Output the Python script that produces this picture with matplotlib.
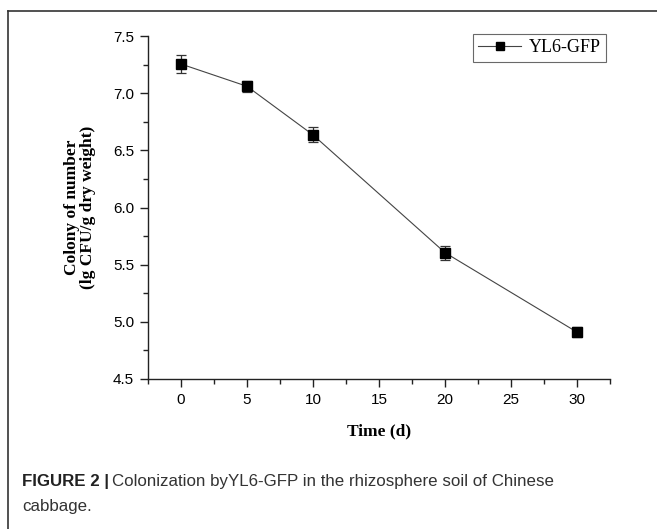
import matplotlib
matplotlib.use("Agg")
import matplotlib.pyplot as plt
from matplotlib.lines import Line2D

days = [0, 5, 10, 20, 30]
colony = [7.255, 7.06, 6.635, 5.605, 4.91]
errors = [0.08, 0.05, 0.065, 0.06, 0.045]
series_name = "YL6-GFP"
xticks = [0, 5, 10, 15, 20, 25, 30]
yticks = [4.5, 5.0, 5.5, 6.0, 6.5, 7.0, 7.5]

W, H = 657, 529
fig = plt.figure(figsize=(W / 100, H / 100), dpi=100)
ax = fig.add_axes([148 / W, 1 - 379 / H, (610 - 148) / W, (379 - 36) / H])

ax.errorbar(days, colony, yerr=errors, color="#444444", lw=0.8, marker="s",
            ms=6.5, mfc="black", mec="black", ecolor="#333333", elinewidth=0.9,
            capsize=3.5, capthick=0.9)

ax.set_xlim(-2.5, 32.5)
ax.set_ylim(4.5, 7.5)
ax.set_xticks(xticks)
ax.set_yticks(yticks)
ax.set_xticks([x + 2.5 for x in xticks[:-1]] + [-2.5, 32.5], minor=True)
ax.set_yticks([y + 0.25 for y in yticks[:-1]], minor=True)
ax.set_yticklabels([f"{v:.1f}" for v in yticks])
for s in ["top", "right"]:
    ax.spines[s].set_visible(False)
for s in ["left", "bottom"]:
    ax.spines[s].set_linewidth(1.0)
    ax.spines[s].set_color("#222222")
ax.tick_params(which="major", direction="out", length=6, width=1.0,
               color="#222222", labelsize=11, pad=4)
ax.tick_params(which="minor", direction="out", length=3.5, width=1.0, color="#222222")
for lab in ax.get_xticklabels() + ax.get_yticklabels():
    lab.set_fontfamily("Liberation Sans")

ax.set_xlabel("Time (d)", fontfamily="Liberation Serif", fontweight="bold",
              fontsize=12.5, labelpad=12)
ax.set_ylabel("Colony of number\n(lg CFU/g dry weight)", fontfamily="Liberation Serif",
              fontweight="bold", fontsize=12.5, labelpad=12, linespacing=1.05)

handle = Line2D([], [], color="#444444", lw=0.8, marker="s", ms=6, mfc="black", mec="black")
leg = fig.legend([handle], [series_name], loc="upper right",
                 bbox_to_anchor=(606 / W, 1 - 34 / H), borderaxespad=0,
                 frameon=True, fancybox=False, edgecolor="#444444", handlelength=2.4,
                 borderpad=0.3, handletextpad=0.4,
                 prop={"family": "Liberation Serif", "size": 13})
leg.get_frame().set_linewidth(0.8)

# figure border (left and top)
fig.add_artist(Line2D([8 / W, 8 / W], [0, 1 - 11 / H], transform=fig.transFigure,
                      color="#333333", lw=1.2))
fig.add_artist(Line2D([8 / W, 1], [1 - 11 / H, 1 - 11 / H], transform=fig.transFigure,
                      color="#333333", lw=1.2))

# caption
cap_y1 = 1 - 486 / H
t1 = fig.text(22 / W, cap_y1, "FIGURE 2 |", fontfamily="Liberation Sans",
              fontweight="bold", fontsize=12.2, color="#222222", va="baseline")
fig.canvas.draw()
bb = t1.get_window_extent()
fig.text(bb.x1 / W + 3 / W, cap_y1, "Colonization byYL6-GFP in the rhizosphere soil of Chinese",
         fontfamily="Liberation Sans", fontsize=12.2, color="#333333", va="baseline")
fig.text(22 / W, 1 - 511 / H, "cabbage.", fontfamily="Liberation Sans",
         fontsize=12.2, color="#333333", va="baseline")

fig.savefig("out.png", dpi=100)
